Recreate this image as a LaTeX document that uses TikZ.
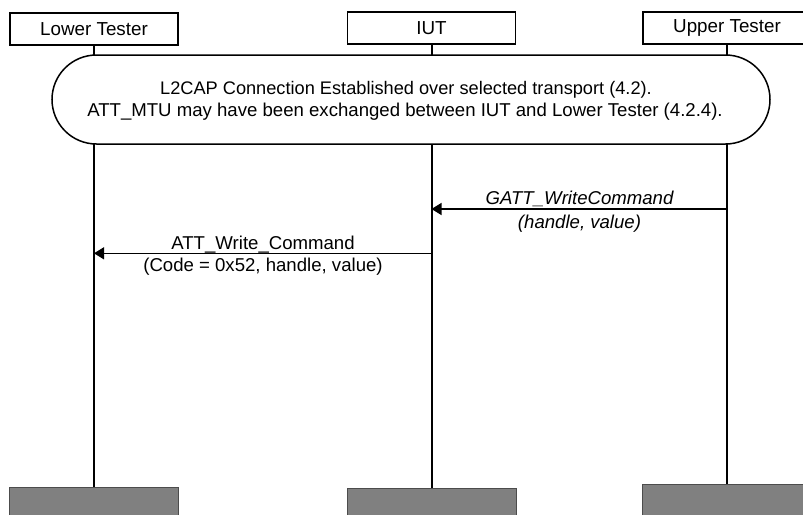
\documentclass[tikz,border=0pt]{standalone}
\usepackage{fontspec}
\setmainfont{Liberation Sans}
\usetikzlibrary{arrows.meta,shapes.misc}
\begin{document}
\begin{tikzpicture}[x=1pt,y=-1pt,
  hdr/.style={draw,line width=1.5pt,minimum width=168pt,minimum height=32pt,inner sep=0pt,font=\fontsize{18.8}{22}\selectfont},
  foot/.style={draw=black!70,fill=black!50,line width=1pt,minimum width=169pt,minimum height=40pt,anchor=north},
  life/.style={line width=2pt},
  msg/.style={line width=1.3pt,-{Triangle[length=10pt,width=12pt]}},
  lbl/.style={font=\fontsize{18.6}{22}\selectfont,inner sep=0pt,anchor=base}]
\useasboundingbox (0,0) rectangle (803,514);
\clip (0,0) rectangle (803,514);
% headers
\node[hdr] (lt) at (94,29) {Lower Tester};
\node[hdr] (iut) at (431.5,28) {IUT};
\node[hdr] (ut) at (727,28) {Upper Tester};
% footers
\node[foot] (ltb) at (94,486.7) {};
\node[foot] (iutb) at (431.5,488) {};
\node[foot] (utb) at (727,484) {};
% lifelines
\draw[life] (lt.south) -- (ltb.north);
\draw[life] (iut.south) -- (iutb.north);
\draw[life] (ut.south) -- (utb.north);
% connection box
\node[draw,fill=white,line width=1.5pt,rounded rectangle,minimum width=718pt,minimum height=89pt,inner sep=0pt] (conn) at (411,99.5) {};
\node[lbl,font=\fontsize{18.2}{22}\selectfont] (c1) at (406,94.5) {L2CAP Connection Established over selected transport (4.2).};
\node[lbl] (c2) at (405,116) {ATT\_MTU may have been exchanged between IUT and Lower Tester (4.2.4).};
% message 1
\coordinate (m1s) at (727,209);
\coordinate (m1e) at (431.5,209);
\draw[msg] (m1s) -- (m1e);
\node[lbl] (m1a) at (579.5,204.3) {\itshape GATT\_WriteCommand};
\node[lbl] (m1b) at (579.5,228.7) {\itshape (handle, value)};
% message 2
\coordinate (m2s) at (431.5,253.3);
\coordinate (m2e) at (94,253.3);
\draw[msg] (m2s) -- (m2e);
\node[lbl] (m2a) at (263,249.3) {ATT\_Write\_Command};
\node[lbl] (m2b) at (263,271.7) {(Code = 0x52, handle, value)};
\end{tikzpicture}
\end{document}
